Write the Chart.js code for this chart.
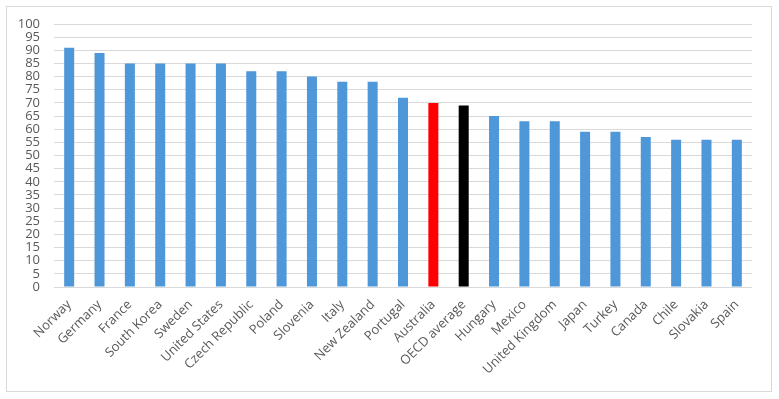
<!DOCTYPE html>
<html>
<head>
<meta charset="utf-8">
<script src="https://cdn.jsdelivr.net/npm/chart.js@4/dist/chart.umd.min.js"></script>
<style>
  html, body { margin: 0; padding: 0; background: #fff; }
  #wrap { width: 779px; height: 399px; position: relative; }
</style>
</head>
<body>
<div id="wrap"><canvas id="scoreChart" width="779" height="399"></canvas></div>
<script>
// countries, scores
var countries = ['Norway', 'Germany', 'France', 'South Korea', 'Sweden', 'United States',
    'Czech Republic', 'Poland', 'Slovenia', 'Italy', 'New Zealand', 'Portugal', 'Australia',
    'OECD average', 'Hungary', 'Mexico', 'United Kingdom', 'Japan', 'Turkey', 'Canada',
    'Chile', 'Slovakia', 'Spain'];
var scores = [91, 89, 85, 85, 85, 85, 82, 82, 80, 78, 78, 72, 70, 69, 65, 63, 63, 59, 59, 57, 56, 56, 56];
var yTicks = [0, 100, 5]; // min, max, step

var barColors = countries.map(function (c) {
    if (c == 'Australia') return '#ff0000';
    if (c == 'OECD average') return '#000000';
    return '#4e97d9';
});

// grey frame round the whole chart
var framePlugin = {
    id: 'frame',
    beforeDraw: function (chart) {
        var ctx = chart.ctx;
        ctx.save();
        ctx.fillStyle = '#ffffff';
        ctx.fillRect(0, 0, chart.width, chart.height);
        ctx.strokeStyle = '#d9d9d9';
        ctx.lineWidth = 1;
        ctx.strokeRect(6.5, 6.5, 765, 385);
        ctx.restore();
    }
};

var scoreChart = new Chart(document.getElementById('scoreChart').getContext('2d'), {
    type: 'bar',
    data: {
        labels: countries,
        datasets: [{
            data: scores,
            backgroundColor: barColors,
            borderWidth: 0,
            categoryPercentage: 1,
            barPercentage: 0.33
        }]
    },
    options: {
        responsive: false,
        animation: false,
        layout: { padding: { top: 24, right: 27, bottom: 0, left: 0 } },
        plugins: { legend: { display: false }, tooltip: { enabled: false } },
        scales: {
            x: {
                afterFit: function (s) { s.height = 112; },
                grid: { display: false, drawTicks: false },
                border: { display: false },
                ticks: {
                    color: '#595959',
                    font: { family: 'Open Sans', size: 13 },
                    minRotation: 45,
                    maxRotation: 45,
                    autoSkip: false,
                    padding: 10
                }
            },
            y: {
                min: yTicks[0],
                max: yTicks[1],
                afterFit: function (s) { s.width = 54; },
                grid: { color: '#d9d9d9', lineWidth: 1, drawTicks: false },
                border: { display: false },
                ticks: {
                    stepSize: yTicks[2],
                    autoSkip: false,
                    color: '#595959',
                    font: { family: 'Open Sans', size: 13 },
                    padding: 14
                }
            }
        }
    },
    plugins: [framePlugin]
});
</script>
</body>
</html>
